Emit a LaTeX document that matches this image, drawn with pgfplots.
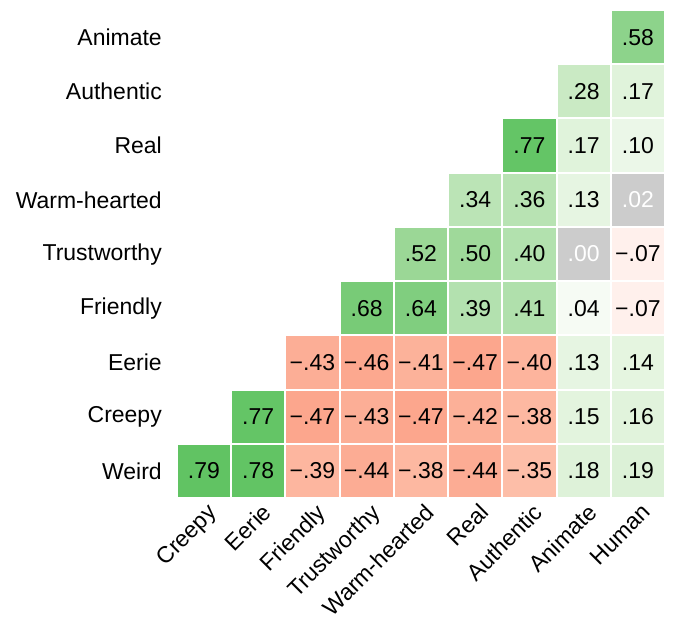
\documentclass[border=0pt]{standalone}
\usepackage{fontspec}
\setmainfont{Liberation Sans}
\usepackage{pgfplots}
\pgfplotsset{compat=1.18}
\usepackage{pgfplotstable}

% lower triangle of the correlation matrix (x = column, y = row, Weird = 0)
\pgfplotstableread{
x y v lbl
8 8 0.58 .58
7 7 0.28 .28
8 7 0.17 .17
6 6 0.77 .77
7 6 0.17 .17
8 6 0.10 .10
5 5 0.34 .34
6 5 0.36 .36
7 5 0.13 .13
4 4 0.52 .52
5 4 0.50 .50
6 4 0.40 .40
8 4 -0.07 −.07
3 3 0.68 .68
4 3 0.64 .64
5 3 0.39 .39
6 3 0.41 .41
7 3 0.04 .04
8 3 -0.07 −.07
2 2 -0.43 −.43
3 2 -0.46 −.46
4 2 -0.41 −.41
5 2 -0.47 −.47
6 2 -0.40 −.40
7 2 0.13 .13
8 2 0.14 .14
1 1 0.77 .77
2 1 -0.47 −.47
3 1 -0.43 −.43
4 1 -0.47 −.47
5 1 -0.42 −.42
6 1 -0.38 −.38
7 1 0.15 .15
8 1 0.16 .16
0 0 0.79 .79
1 0 0.78 .78
2 0 -0.39 −.39
3 0 -0.44 −.44
4 0 -0.38 −.38
5 0 -0.44 −.44
6 0 -0.35 −.35
7 0 0.18 .18
8 0 0.19 .19
}\corrtab

% not significant
\pgfplotstableread{
x y v lbl
8 5 0.02 .02
7 4 0.00 .00
}\corrns

\newcommand\lblfont{\fontsize{11.5}{13}\selectfont}

\begin{document}
\begin{tikzpicture}
\begin{axis}[
    name=ax,
    x=27.15pt, y=27.15pt,
    xmin=-0.5, xmax=8.5, ymin=-0.5, ymax=8.5,
    axis line style={draw=none},
    major tick length=0pt,
    clip=false,
    xtick={0,...,8},
    ytick={0,...,8},
    xticklabels={Creepy,Eerie,Friendly,Trustworthy,Warm-hearted,Real,Authentic,Animate,Human},
    yticklabels={Weird,Creepy,Eerie,Friendly,Trustworthy,Warm-hearted,Real,Authentic,Animate},
    xticklabel style={rotate=45, anchor=north east, xshift=3pt, yshift=1pt, font=\lblfont},
    yticklabel style={xshift=-4pt, font=\lblfont},
    colormap={corr}{
      rgb255(0pt)=(252,160,134)
      rgb255(3pt)=(252,166,141)
      rgb255(15pt)=(253,190,168)
      rgb255(43pt)=(255,240,236)
      rgb255(50pt)=(252,254,251)
      rgb255(54pt)=(246,251,244)
      rgb255(60pt)=(235,247,232)
      rgb255(65pt)=(227,244,222)
      rgb255(68pt)=(222,242,217)
      rgb255(78pt)=(202,234,196)
      rgb255(85pt)=(185,227,180)
      rgb255(90pt)=(178,225,174)
      rgb255(101pt)=(157,216,152)
      rgb255(108pt)=(141,211,139)
      rgb255(116pt)=(124,205,123)
      rgb255(128pt)=(98,196,100)
      rgb255(130pt)=(96,195,98)
    },
    point meta min=-0.5, point meta max=0.8,
    every node near coord/.append style={anchor=center, font=\lblfont},
]
% cells
\addplot[scatter, only marks, mark=square*, mark size=13.575pt,
    point meta=explicit,
    scatter/use mapped color={draw=white, fill=mapped color},
    mark options={line width=1pt}]
    table[x=x, y=y, meta=v] {\corrtab};
\addplot[only marks, mark=square*, mark size=13.575pt,
    mark options={fill=black!20, draw=white, line width=1pt}]
    table[x=x, y=y] {\corrns};
% values
\addplot[only marks, mark=none, point meta=explicit symbolic,
    nodes near coords, every node near coord/.append style={text=black}]
    table[x=x, y=y, meta=lbl] {\corrtab};
\addplot[only marks, mark=none, point meta=explicit symbolic,
    nodes near coords, every node near coord/.append style={text=white}]
    table[x=x, y=y, meta=lbl] {\corrns};
\end{axis}
\pgfresetboundingbox
\path (ax.south west) ++(-88.5pt,-60pt) coordinate (bl);
\path (ax.north east) ++(5pt,5pt) coordinate (tr);
\path (bl) rectangle (tr);
\end{tikzpicture}
\end{document}
